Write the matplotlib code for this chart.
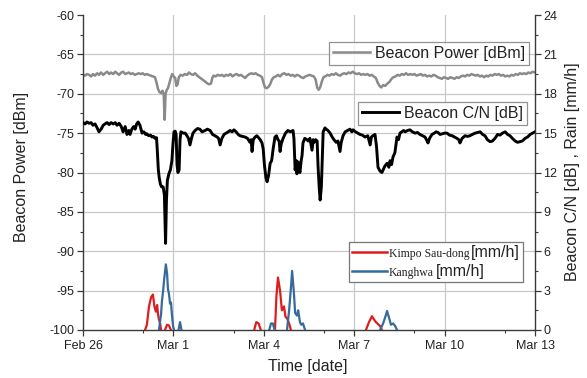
import numpy as np
import matplotlib
matplotlib.use("Agg")
import matplotlib.pyplot as plt
from matplotlib.lines import Line2D
from matplotlib.offsetbox import AnchoredOffsetbox, HPacker, VPacker, TextArea, DrawingArea

plt.rcParams['font.family'] = ['Liberation Sans', 'DejaVu Sans']
plt.rcParams['axes.unicode_minus'] = False

# ---------------- data (x in days since Feb 26, 00:00) ----------------
date_ticks = [0, 3, 6, 9, 12, 15]
date_labels = ["Feb 26", "Mar 1", "Mar 4", "Mar 7", "Mar 10", "Mar 13"]
date_minor = [2, 5, 8, 11, 14]

power_day = [0.00, 0.07, 0.13, 0.20, 0.27, 0.33, 0.40, 0.47, 0.53, 0.60, 0.67, 0.73, 0.80, 0.87, 0.93,
             1.00, 1.07, 1.13, 1.20, 1.27, 1.33, 1.40, 1.46, 1.52, 1.58, 1.65, 1.72, 1.78, 1.85, 1.92,
             1.98, 2.05, 2.12, 2.18, 2.25, 2.32, 2.39, 2.44, 2.49, 2.54, 2.59, 2.64, 2.68, 2.71, 2.74,
             2.78, 2.82, 2.87, 2.92, 2.96, 3.01, 3.06, 3.10, 3.14, 3.18, 3.24, 3.31, 3.38, 3.45, 3.52,
             3.58, 3.65, 3.72, 3.79, 3.86, 3.93, 4.00, 4.07, 4.13, 4.19, 4.25, 4.29, 4.33, 4.40, 4.47,
             4.54, 4.61, 4.68, 4.75, 4.82, 4.89, 4.96, 5.03, 5.10, 5.17, 5.24, 5.31, 5.38, 5.45, 5.52,
             5.59, 5.66, 5.73, 5.80, 5.87, 5.94, 5.99, 6.04, 6.10, 6.16, 6.21, 6.27, 6.33, 6.40, 6.47,
             6.54, 6.61, 6.68, 6.75, 6.82, 6.89, 6.96, 7.03, 7.10, 7.17, 7.24, 7.31, 7.38, 7.45, 7.52,
             7.59, 7.66, 7.72, 7.77, 7.82, 7.87, 7.93, 7.98, 8.04, 8.11, 8.18, 8.25, 8.32, 8.39, 8.46,
             8.53, 8.60, 8.67, 8.74, 8.81, 8.88, 8.95, 9.02, 9.09, 9.16, 9.23, 9.30, 9.37, 9.44, 9.51,
             9.58, 9.65, 9.72, 9.78, 9.84, 9.90, 9.96, 10.03, 10.10, 10.17, 10.24, 10.30, 10.37, 10.44,
             10.51, 10.58, 10.65, 10.72, 10.79, 10.86, 10.93, 11.00, 11.07, 11.14, 11.21, 11.28, 11.35,
             11.42, 11.49, 11.56, 11.63, 11.70, 11.77, 11.84, 11.91, 11.98, 12.05, 12.12, 12.19, 12.26,
             12.33, 12.40, 12.47, 12.54, 12.61, 12.68, 12.75, 12.82, 12.89, 12.96, 13.03, 13.10, 13.17,
             13.24, 13.31, 13.38, 13.45, 13.52, 13.59, 13.66, 13.73, 13.80, 13.87, 13.94, 14.01, 14.08,
             14.15, 14.22, 14.29, 14.36, 14.43, 14.50, 14.57, 14.64, 14.71, 14.78, 14.85, 14.92, 15.00]
power_dbm = [-67.6, -67.7, -67.5, -67.6, -67.8, -67.5, -67.7, -67.4, -67.6, -67.3, -67.6, -67.4, -67.2, -67.5, -67.3,
             -67.5, -67.2, -67.4, -67.6, -67.3, -67.2, -67.5, -67.4, -67.3, -67.5, -67.4, -67.6, -67.5, -67.4, -67.5,
             -67.4, -67.6, -67.5, -67.6, -67.7, -67.8, -67.9, -68.6, -69.4, -69.8, -69.9, -69.6, -70.2, -73.3, -70.0,
             -69.5, -69.3, -68.6, -67.9, -67.5, -67.8, -68.0, -69.0, -68.8, -67.9, -67.6, -67.7, -67.5, -67.6, -67.3,
             -67.5, -67.6, -67.4, -67.7, -67.9, -68.1, -68.3, -68.5, -68.7, -68.8, -68.7, -68.0, -67.7, -67.8, -67.6,
             -67.7, -67.6, -67.8, -67.6, -67.7, -67.5, -67.8, -67.6, -67.5, -67.7, -67.6, -67.8, -68.0, -67.7, -67.5,
             -67.4, -67.5, -67.4, -67.6, -67.7, -67.9, -68.6, -69.2, -69.3, -69.1, -68.8, -68.2, -67.9, -67.8, -67.6,
             -67.8, -67.5, -67.4, -67.6, -67.5, -67.7, -67.6, -67.8, -67.6, -67.7, -67.9, -68.0, -67.8, -67.7, -67.6,
             -67.7, -67.8, -68.2, -69.2, -69.5, -69.2, -68.4, -67.9, -67.8, -67.6, -67.7, -67.5, -67.6, -67.4, -67.6,
             -67.7, -67.5, -67.4, -67.5, -67.3, -67.4, -67.2, -67.4, -67.5, -67.4, -67.6, -67.5, -67.6, -67.5, -67.7,
             -67.6, -67.8, -68.0, -68.6, -69.0, -69.2, -68.9, -69.0, -68.7, -68.5, -68.1, -67.9, -67.8, -67.6,
             -67.7, -67.5, -67.6, -67.4, -67.6, -67.5, -67.6, -67.5, -67.7, -67.6, -67.5, -67.7, -67.6,
             -67.8, -67.7, -67.8, -67.6, -67.7, -67.9, -68.0, -68.1, -67.9, -68.0, -68.1, -67.9, -68.0,
             -68.1, -67.9, -68.0, -67.8, -67.7, -67.8, -67.6, -67.7, -67.5, -67.6, -67.7, -67.6, -67.8,
             -67.7, -67.9, -67.7, -67.8, -67.6, -67.7, -67.5, -67.6, -67.5, -67.7, -67.6, -67.8, -67.7,
             -67.8, -67.6, -67.7, -67.5, -67.6, -67.4, -67.5, -67.4, -67.5, -67.3, -67.4, -67.2, -67.3]

cn_day = [0.00, 0.07, 0.13, 0.20, 0.27, 0.33, 0.40, 0.47, 0.53, 0.60, 0.67, 0.73, 0.80, 0.87, 0.93,
          1.00, 1.07, 1.13, 1.20, 1.27, 1.33, 1.40, 1.46, 1.52, 1.56, 1.62, 1.68, 1.73, 1.78, 1.83,
          1.89, 1.96, 2.02, 2.08, 2.12, 2.18, 2.24, 2.29, 2.34, 2.39, 2.44, 2.47, 2.50, 2.53, 2.57,
          2.61, 2.66, 2.70, 2.74, 2.77, 2.80, 2.85, 2.90, 2.95, 2.99, 3.02, 3.06, 3.09, 3.12, 3.15,
          3.19, 3.22, 3.25, 3.32, 3.39, 3.45, 3.50, 3.55, 3.60, 3.65, 3.72, 3.80, 3.88, 3.95, 4.05,
          4.13, 4.22, 4.30, 4.38, 4.45, 4.50, 4.55, 4.61, 4.68, 4.75, 4.82, 4.88, 4.95, 5.01, 5.08,
          5.15, 5.21, 5.30, 5.38, 5.46, 5.54, 5.58, 5.61, 5.65, 5.71, 5.77, 5.81, 5.88, 5.94, 5.98,
          6.02, 6.07, 6.11, 6.16, 6.21, 6.26, 6.31, 6.37, 6.42, 6.47, 6.51, 6.54, 6.58, 6.64, 6.72,
          6.80, 6.88, 6.97, 7.00, 7.04, 7.08, 7.10, 7.14, 7.17, 7.20, 7.24, 7.27, 7.30, 7.36, 7.43,
          7.48, 7.53, 7.60, 7.64, 7.67, 7.72, 7.77, 7.80, 7.84, 7.87, 7.91, 7.94, 7.97, 8.03, 8.07,
          8.13, 8.20, 8.27, 8.33, 8.40, 8.46, 8.53, 8.57, 8.63, 8.70, 8.78, 8.86, 8.92, 8.96, 9.04,
          9.12, 9.19, 9.27, 9.36, 9.45, 9.53, 9.57, 9.62, 9.69, 9.74, 9.79, 9.86, 9.92, 9.96, 10.02,
          10.09, 10.15, 10.19, 10.24, 10.29, 10.35, 10.42, 10.47, 10.52, 10.58, 10.64, 10.69, 10.77,
          10.85, 10.93, 11.02, 11.10, 11.18, 11.27, 11.35, 11.42, 11.45, 11.50, 11.58, 11.66, 11.72,
          11.78, 11.85, 11.92, 12.00, 12.08, 12.16, 12.25, 12.33, 12.41, 12.47, 12.51, 12.58, 12.68,
          12.76, 12.84, 12.92, 13.01, 13.10, 13.18, 13.26, 13.34, 13.42, 13.51, 13.59, 13.67, 13.76,
          13.84, 13.92, 14.01, 14.09, 14.17, 14.25, 14.34, 14.42, 14.50, 14.58, 14.67, 14.75, 14.84,
          14.92, 15.00]
cn_db = [15.8, 15.7, 15.85, 15.75, 15.8, 15.6, 15.7, 15.4, 15.1, 15.3, 15.6, 15.7, 15.8, 15.65, 15.8,
         15.7, 15.8, 15.6, 15.75, 15.5, 15.1, 15.5, 14.9, 15.2, 14.9, 15.3, 15.5, 15.3, 15.7, 15.85,
         15.6, 15.0, 15.1, 14.9, 14.95, 14.8, 14.85, 14.7, 14.75, 14.6, 14.65, 13.5, 12.2, 11.6, 11.1,
         10.9, 10.9, 10.3, 6.6, 9.9, 11.4, 11.9, 12.2, 12.9, 14.3, 15.1, 15.15, 14.9, 12.6, 12.0,
         12.2, 14.5, 15.1, 15.0, 15.0, 14.8, 14.6, 14.1, 14.6, 15.0, 15.2, 15.35, 15.3, 15.1, 15.2,
         15.3, 15.2, 14.9, 14.8, 14.7, 14.6, 14.1, 14.6, 14.9, 15.0, 15.1, 15.2, 15.1, 15.25, 15.1,
         14.9, 14.8, 14.75, 14.7, 14.6, 14.3, 14.5, 13.6, 14.5, 14.7, 14.8, 14.7, 14.5, 14.25, 13.8,
         12.6, 11.6, 11.3, 11.8, 12.7, 12.9, 13.8, 14.7, 14.8, 14.5, 14.4, 13.6, 14.2, 14.6, 15.0,
         15.2, 15.1, 15.2, 14.6, 12.2, 12.9, 11.9, 12.8, 12.3, 12.0, 12.9, 13.3, 14.25, 14.6, 14.5,
         14.4, 14.6, 13.7, 14.5, 14.3, 14.5, 14.4, 12.5, 10.8, 9.9, 10.9, 13.0, 15.1, 15.4, 15.3,
         15.2, 15.0, 14.7, 14.5, 14.3, 14.4, 13.6, 14.3, 14.8, 15.1, 15.2, 15.3, 15.1, 15.25, 15.1,
         15.0, 14.9, 14.85, 14.7, 14.8, 14.1, 14.7, 14.8, 14.9, 14.0, 12.4, 12.1, 12.0, 12.2, 12.5,
         12.7, 12.4, 12.9, 12.6, 13.2, 13.5, 14.7, 14.5, 15.0, 15.1, 15.2, 15.1, 15.2,
         15.25, 15.1, 15.0, 15.05, 14.9, 14.8, 14.7, 14.4, 14.25, 14.6, 14.9, 15.0, 15.1,
         15.05, 14.9, 14.95, 15.0, 15.0, 14.85, 14.8, 14.7, 14.6, 14.5, 14.25, 14.6, 14.8,
         14.75, 14.8, 14.9, 15.0, 15.05, 15.1, 14.9, 14.8, 14.5, 14.35, 14.4, 14.6, 14.9,
         14.85, 15.0, 15.1, 14.9, 14.8, 14.6, 14.4, 14.3, 14.35, 14.4, 14.6, 14.7, 14.9,
         15.0, 15.1]

nan = np.nan
kimpo_day = [2.06, 2.12, 2.19, 2.26, 2.32, 2.37, 2.42, 2.46, 2.49, 2.52, 2.56, 2.59, nan,
             2.72, 2.79, 2.85, 2.92, nan,
             5.68, 5.75, 5.83, 5.90, nan,
             6.37, 6.42, 6.47, 6.54, 6.60, 6.67, 6.72, 6.77, 6.84, 6.90, nan,
             9.39, 9.49, 9.59, 9.66, 9.72, 9.79, 9.86, 9.92]
kimpo_mmh = [0.0, 0.4, 1.8, 2.5, 2.7, 1.8, 1.4, 1.9, 1.2, 0.8, 0.5, 0.0, nan,
             0.0, 0.4, 0.35, 0.0, nan,
             0.0, 0.6, 0.5, 0.0, nan,
             0.0, 2.6, 4.0, 3.0, 1.5, 1.8, 1.0, 0.9, 0.5, 0.0, nan,
             0.0, 0.6, 1.05, 0.8, 0.6, 0.45, 0.3, 0.0]

kanghwa_day = [2.52, 2.59, 2.62, 2.66, 2.69, 2.75, 2.79, 2.82, 2.85, 2.89, 2.92, 2.95, 2.99, 3.02, nan,
               3.17, 3.22, 3.27, nan,
               6.18, 6.24, 6.30, 6.36, nan,
               6.77, 6.84, 6.90, 6.94, 7.00, 7.04, 7.10, 7.14, 7.20, 7.24, 7.30, 7.37, nan,
               9.86, 9.96, 10.06, 10.09, 10.16, 10.22, 10.29, 10.36, 10.42]
kanghwa_mmh = [0.0, 1.2, 2.2, 3.0, 3.8, 5.0, 4.3, 3.1, 2.8, 2.0, 2.1, 1.2, 0.3, 0.0, nan,
               0.0, 0.6, 0.0, nan,
               0.0, 0.5, 0.5, 0.0, nan,
               0.0, 1.5, 3.2, 4.5, 2.8, 1.3, 1.1, 1.5, 0.6, 0.4, 0.5, 0.0, nan,
               0.0, 0.5, 1.2, 1.45, 0.9, 0.4, 0.5, 0.3, 0.0]

left_ticks = [-100, -95, -90, -85, -80, -75, -70, -65, -60]
right_ticks = [0, 3, 6, 9, 12, 15, 18, 21, 24]

# ---------------- figure ----------------
W, H = 587, 378
fig = plt.figure(figsize=(W / 100, H / 100), dpi=100)
ax = fig.add_axes([83 / W, 48 / H, 452 / W, 315 / H])
ax2 = ax.twinx()

spine_col = '#3a3a3a'
grid_col = '#c8c8c8'
tick_col = '#222222'

ax.set_xlim(0, 15)
ax.set_ylim(-100, -60)
ax2.set_ylim(0, 24)

# grid
for t in date_ticks[1:-1]:
    ax.axvline(t, color=grid_col, lw=0.9, zorder=0.5)
for t in left_ticks[1:-1]:
    ax.axhline(t, color=grid_col, lw=0.9, zorder=0.5)

ax.plot(power_day, power_dbm, color='#8a8a8a', lw=1.8, zorder=2)
ax2.plot(cn_day, cn_db, color='black', lw=2.1, zorder=3)
ax2.plot(kimpo_day, kimpo_mmh, color='#dc1e1e', lw=1.6, zorder=2)
ax2.plot(kanghwa_day, kanghwa_mmh, color='#356b9c', lw=1.6, zorder=2)

ax.set_xticks(date_ticks)
ax.set_xticklabels(date_labels)
ax.set_xticks(date_minor, minor=True)
ax.set_yticks(left_ticks)
ax.set_yticks([v + 2.5 for v in left_ticks[:-1]], minor=True)
ax2.set_yticks(right_ticks)
ax2.set_yticks([v + 1.5 for v in right_ticks[:-1]], minor=True)

for a in (ax, ax2):
    a.spines['top'].set_visible(False)
    for s in a.spines.values():
        s.set_color(spine_col)
        s.set_linewidth(1.0)
ax.spines['right'].set_visible(False)
ax2.spines['left'].set_visible(False)
ax2.spines['bottom'].set_visible(False)

ax.tick_params(axis='both', which='major', direction='out', length=4.5, width=0.9,
               color=spine_col, labelsize=9, labelcolor=tick_col, pad=1.5)
ax.tick_params(axis='both', which='minor', direction='out', length=2.5, width=0.8, color=spine_col)
ax.tick_params(axis='x', which='major', pad=3)
ax2.tick_params(axis='y', which='major', direction='out', length=4.5, width=0.9,
                color=spine_col, labelsize=9, labelcolor=tick_col, pad=1.5)
ax2.tick_params(axis='y', which='minor', direction='out', length=2.5, width=0.8, color=spine_col)

fig.text(22 / W, 1 - 167 / H, 'Beacon Power [dBm]', rotation=90, ha='center', va='center',
         fontsize=11.5, color=tick_col)
fig.text(572 / W, 1 - 172 / H, 'Beacon C/N [dB] , Rain [mm/h]', rotation=90, ha='center',
         va='center', fontsize=11.5, color=tick_col)
fig.text(308 / W, 1 - 367 / H, 'Time [date]', ha='center', va='center', fontsize=11.5, color=tick_col)

# legends
leg_kw = dict(fontsize=11.5, frameon=True, fancybox=False, borderpad=0.25, handlelength=2.3,
              handletextpad=0.3, borderaxespad=0, loc='upper right')
l1 = fig.legend([Line2D([], [], color='#8a8a8a', lw=1.8)], ['Beacon Power [dBm]'],
                bbox_to_anchor=(529 / W, 1 - 42 / H), **leg_kw)
l2 = fig.legend([Line2D([], [], color='black', lw=2.1)], ['Beacon C/N [dB]'],
                bbox_to_anchor=(527 / W, 1 - 102 / H), **leg_kw)
for lg in (l1, l2):
    fr = lg.get_frame()
    fr.set_edgecolor('#777777')
    fr.set_linewidth(0.9)
    for t in lg.get_texts():
        t.set_color(tick_col)


def rain_row(color, name):
    da = DrawingArea(25, 8, 0, 0)
    da.add_artist(Line2D([0, 25], [3.5, 3.5], color=color, lw=1.8))
    t1 = TextArea(name, textprops=dict(family=['Liberation Serif', 'DejaVu Serif'], size=8.5, color=tick_col))
    t2 = TextArea('[mm/h]', textprops=dict(family=['Liberation Sans', 'DejaVu Sans'], size=11.5, color=tick_col))
    return HPacker(children=[da, t1, t2], align='baseline', pad=0, sep=1.5)


vp = VPacker(children=[rain_row('#dc1e1e', 'Kimpo Sau-dong'), rain_row('#356b9c', 'Kanghwa')],
             align='left', pad=0, sep=3)
box = AnchoredOffsetbox(loc='upper right', child=vp, pad=0.2, borderpad=0, frameon=True,
                        bbox_to_anchor=(523 / W, 1 - 242 / H), bbox_transform=fig.transFigure)
box.patch.set_edgecolor('#777777')
box.patch.set_linewidth(0.9)
fig.add_artist(box)

fig.savefig('out.png', dpi=100)
